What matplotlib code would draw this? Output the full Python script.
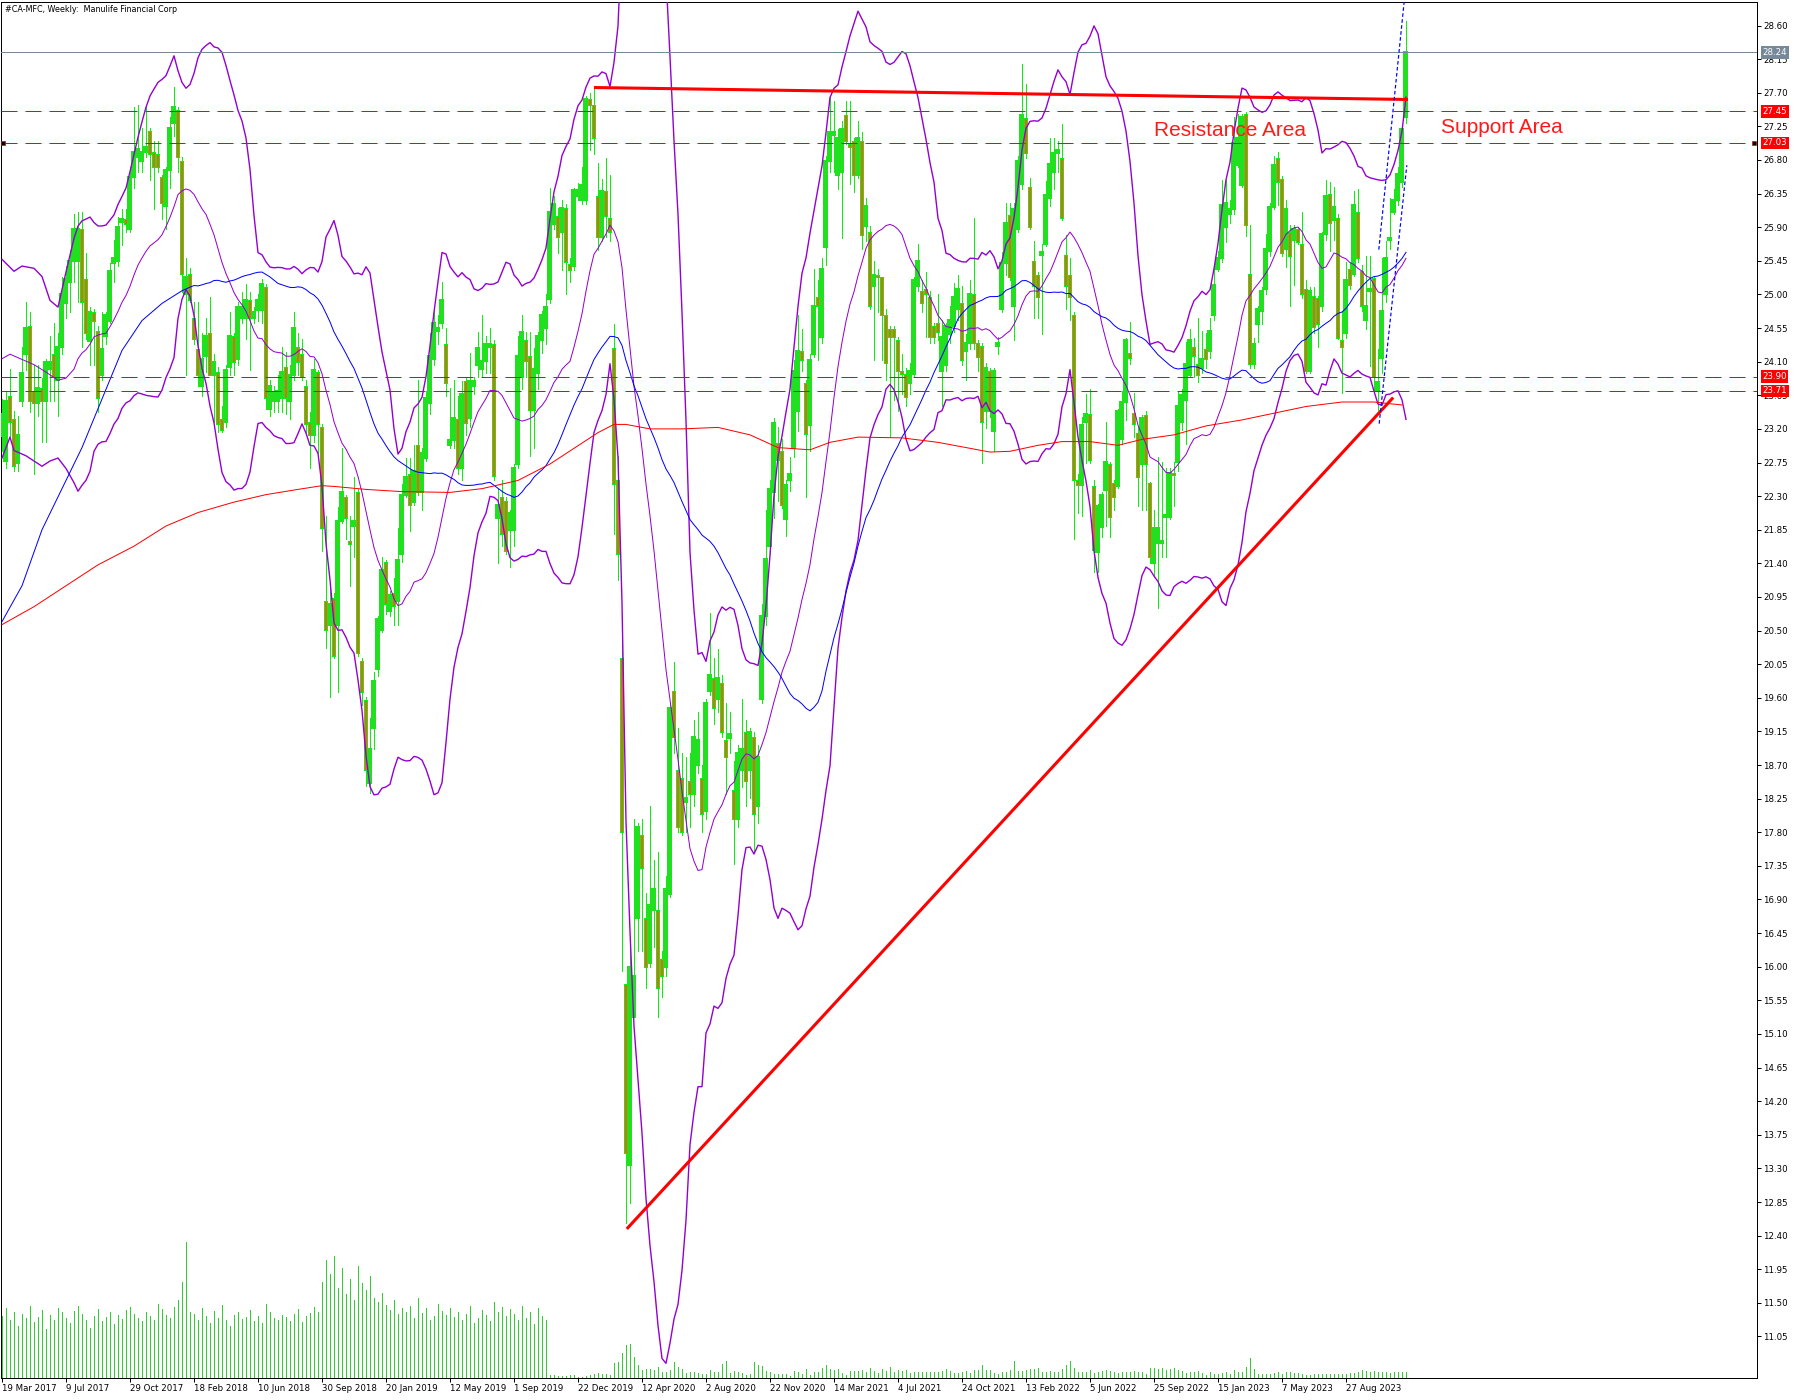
import numpy as np
import pandas as pd
import matplotlib
matplotlib.use("Agg")
import matplotlib.pyplot as plt
from matplotlib.transforms import blended_transform_factory

# weekly bars of #CA-MFC, first bar = week of 19 Mar 2017
start_date = "2017-03-19"

opens = [
    23.10, 22.77, 23.64, 23.33, 22.74, 23.57, 24.20, 24.58, 23.71, 23.54,
    23.75, 23.57, 24.00, 24.20, 23.85, 24.30, 24.89, 25.17, 25.45, 25.45,
    25.87, 25.21, 24.37, 24.76, 24.51, 23.92, 24.44, 24.65, 25.42, 25.45,
    25.97, 26.01, 25.87, 26.57, 26.84, 26.78, 26.91, 27.19, 26.91, 26.88,
    26.57, 26.18, 26.67, 27.30, 27.47, 26.78, 25.00, 25.28, 24.69, 24.27,
    23.78, 24.17, 24.48, 23.92, 23.96, 23.33, 23.29, 24.03, 24.44, 24.13,
    24.69, 24.69, 24.93, 24.69, 24.79, 24.79, 25.10, 23.47, 23.57, 23.57,
    23.61, 24.03, 23.57, 23.92, 24.30, 24.20, 23.78, 23.29, 23.12, 23.96,
    23.23, 20.90, 20.58, 20.93, 20.58, 21.97, 22.29, 21.70, 21.90, 22.36,
    20.09, 19.57, 18.46, 19.19, 19.99, 20.51, 21.42, 20.76, 21.00, 20.90,
    21.52, 22.32, 22.60, 22.22, 22.98, 22.36, 22.81, 23.54, 24.13, 24.51,
    24.62, 24.34, 22.98, 23.05, 23.33, 22.68, 23.84, 23.34, 23.78, 24.06,
    24.00, 24.11, 24.30, 24.33, 22.01, 22.29, 22.23, 21.85, 21.85, 22.73,
    23.89, 24.39, 24.17, 23.45, 23.95, 24.39, 24.55, 24.94, 25.94, 26.05,
    25.83, 26.16, 25.41, 25.38, 26.32, 26.27, 26.27, 27.62, 27.54, 26.32,
    25.77, 26.38, 26.03, 24.28, 22.51, 20.13, 15.77, 13.34, 15.33, 16.65,
    17.76, 16.65, 16.05, 16.76, 16.76, 16.10, 15.99, 16.98, 19.69, 18.64,
    18.53, 18.20, 18.48, 18.31, 18.70, 18.53, 18.09, 19.69, 19.86, 19.58,
    19.80, 19.03, 19.06, 18.37, 17.98, 18.64, 19.14, 18.64, 19.08, 18.15,
    19.58, 20.69, 21.63, 22.35, 23.01, 22.90, 21.99, 22.52, 22.94, 23.44,
    24.24, 23.82, 23.25, 24.20, 24.96, 24.43, 25.64, 26.79, 27.13, 26.60,
    26.64, 27.40, 27.02, 27.05, 26.60, 27.05, 25.91, 25.84, 25.11, 25.26,
    25.23, 24.73, 24.54, 24.54, 24.39, 23.97, 23.93, 23.82, 23.93, 25.11,
    25.04, 25.07, 24.96, 24.58, 24.62, 23.97, 24.05, 24.47, 24.58, 24.81,
    24.88, 24.24, 24.35, 25.00, 24.35, 24.31, 23.44, 23.97, 23.17, 24.31,
    24.81, 25.42, 26.06, 24.85, 25.87, 26.48, 27.36, 26.44, 25.45, 25.26,
    25.53, 25.68, 26.29, 26.64, 26.90, 26.83, 25.53, 25.26, 24.73, 22.52,
    22.45, 23.29, 23.40, 22.43, 21.55, 21.88, 22.38, 22.73, 22.47, 22.43,
    23.06, 23.56, 24.21, 23.41, 23.15, 22.73, 23.38, 22.47, 21.40, 21.67,
    21.67, 22.02, 22.02, 22.61, 22.76, 23.29, 23.59, 23.92, 24.30, 24.07,
    24.01, 24.27, 24.24, 24.72, 25.34, 25.49, 25.90, 26.08, 26.14, 26.73,
    26.47, 27.41, 25.28, 24.07, 24.60, 24.78, 25.07, 25.58, 26.17, 26.82,
    26.55, 25.61, 25.84, 25.73, 25.87, 25.67, 25.07, 23.98, 24.98, 24.95,
    24.84, 25.81, 26.35, 26.00, 26.02, 24.39, 24.48, 25.34, 25.28, 26.11,
    25.31, 24.66, 25.04, 25.22, 23.71, 24.15, 25.01, 25.73, 26.11, 26.26,
    26.50, 27.38,
]
highs = [
    23.60, 23.71, 24.00, 23.44, 23.37, 24.30, 24.90, 24.76, 24.06, 24.06,
    23.88, 24.13, 24.44, 24.62, 24.48, 25.24, 25.38, 25.59, 26.08, 26.11,
    26.11, 25.56, 24.83, 24.80, 24.58, 24.76, 24.76, 25.42, 25.73, 26.04,
    26.15, 26.15, 26.71, 27.51, 27.54, 27.23, 27.54, 27.23, 27.05, 27.05,
    26.60, 26.71, 27.37, 27.78, 27.51, 26.84, 25.49, 25.35, 24.90, 24.90,
    24.48, 24.69, 24.97, 24.20, 24.03, 23.50, 24.06, 24.76, 24.48, 24.90,
    25.03, 25.14, 25.03, 24.83, 25.00, 25.21, 25.14, 23.85, 23.78, 23.92,
    24.30, 24.23, 24.06, 24.76, 24.48, 24.41, 23.85, 23.43, 24.13, 23.99,
    23.26, 22.04, 21.07, 21.00, 22.15, 22.95, 22.32, 22.04, 22.56, 22.39,
    20.13, 19.61, 19.33, 19.95, 20.69, 21.49, 21.45, 21.03, 21.21, 21.87,
    22.46, 22.81, 22.81, 22.98, 23.85, 22.95, 23.71, 24.48, 24.83, 24.72,
    25.17, 24.55, 23.75, 23.85, 23.64, 23.84, 23.89, 24.22, 23.89, 24.50,
    24.72, 24.44, 24.55, 24.39, 22.40, 22.51, 22.29, 22.12, 22.73, 24.44,
    24.72, 24.50, 24.50, 24.28, 24.50, 24.78, 25.00, 26.43, 26.32, 26.16,
    26.27, 26.21, 25.49, 26.43, 26.49, 26.71, 27.65, 27.70, 27.76, 26.76,
    26.54, 26.82, 26.60, 24.61, 22.84, 20.47, 15.77, 16.27, 17.98, 17.92,
    17.98, 16.99, 18.15, 17.43, 17.54, 16.21, 17.21, 19.53, 20.08, 19.19,
    18.86, 18.81, 18.86, 19.30, 19.41, 18.70, 19.58, 20.74, 20.13, 20.25,
    19.91, 19.53, 19.41, 18.75, 18.97, 19.58, 19.30, 19.19, 19.14, 18.97,
    20.85, 22.12, 22.51, 23.34, 23.23, 23.06, 22.52, 22.83, 24.12, 24.73,
    24.54, 23.86, 24.20, 25.34, 25.19, 25.49, 26.86, 27.66, 27.59, 27.21,
    27.32, 27.59, 27.59, 27.09, 27.32, 27.17, 26.29, 25.91, 25.45, 25.34,
    25.23, 24.81, 24.58, 24.58, 24.43, 24.20, 24.01, 24.08, 25.23, 25.68,
    25.19, 25.30, 25.04, 24.62, 25.00, 24.66, 24.62, 24.85, 25.15, 25.26,
    25.11, 24.47, 25.19, 26.03, 24.39, 24.35, 24.08, 24.01, 24.01, 24.43,
    25.57, 26.22, 26.22, 26.22, 26.86, 28.08, 27.82, 26.56, 25.72, 25.30,
    25.68, 26.52, 27.09, 27.09, 27.05, 27.28, 25.80, 25.49, 24.77, 22.60,
    23.36, 23.67, 23.74, 22.52, 22.20, 22.35, 23.29, 22.76, 22.52, 23.47,
    23.71, 24.42, 24.63, 23.68, 23.24, 23.38, 23.44, 22.49, 22.11, 22.82,
    22.76, 22.67, 22.67, 22.76, 23.71, 23.74, 24.36, 24.54, 24.42, 24.69,
    24.51, 24.48, 24.69, 25.37, 25.58, 26.53, 26.53, 26.26, 27.38, 27.41,
    27.41, 27.44, 25.93, 24.42, 24.84, 25.10, 25.81, 26.23, 26.85, 26.91,
    26.58, 26.26, 25.93, 25.93, 25.90, 26.11, 25.19, 25.10, 25.10, 24.98,
    25.84, 26.53, 26.50, 26.44, 26.08, 24.78, 25.43, 25.43, 26.38, 26.41,
    25.40, 25.52, 25.52, 25.25, 24.27, 25.49, 25.72, 26.29, 26.41, 26.70,
    27.24, 28.66,
]
lows = [
    22.90, 22.67, 23.09, 22.63, 22.63, 23.50, 23.99, 23.43, 22.60, 23.37,
    23.02, 23.02, 23.57, 23.57, 23.37, 24.20, 24.69, 24.76, 25.17, 24.90,
    24.30, 24.41, 24.06, 24.06, 23.43, 23.85, 24.34, 24.62, 25.17, 25.38,
    25.66, 25.84, 25.84, 26.43, 26.64, 26.64, 26.84, 26.53, 26.15, 26.64,
    26.01, 25.87, 26.43, 27.12, 26.64, 25.03, 23.92, 24.90, 24.34, 23.78,
    23.64, 23.96, 23.92, 23.29, 23.16, 23.16, 23.22, 23.92, 23.92, 24.06,
    24.62, 24.41, 23.99, 24.62, 24.65, 24.62, 23.47, 23.37, 23.43, 23.43,
    23.43, 23.40, 23.33, 23.85, 23.92, 23.85, 23.16, 22.67, 23.02, 22.88,
    21.56, 20.27, 19.61, 20.13, 19.68, 21.94, 21.73, 21.10, 21.49, 20.16,
    19.50, 18.42, 18.32, 18.91, 19.89, 20.48, 20.72, 20.69, 20.58, 20.58,
    21.42, 22.29, 21.83, 22.18, 22.32, 22.11, 22.77, 23.40, 24.06, 24.34,
    24.55, 23.64, 22.95, 22.95, 22.60, 22.51, 23.12, 23.23, 23.67, 23.89,
    23.89, 23.95, 23.95, 22.51, 21.41, 21.63, 21.52, 21.35, 21.63, 22.68,
    23.73, 23.89, 22.84, 22.95, 23.73, 24.22, 24.33, 24.89, 25.88, 25.55,
    25.33, 25.00, 25.16, 25.33, 26.27, 26.21, 26.21, 26.93, 26.88, 25.60,
    25.71, 25.77, 25.71, 21.79, 21.18, 15.94, 12.57, 12.84, 15.33, 16.21,
    16.21, 15.72, 15.99, 16.27, 15.33, 15.60, 15.88, 16.93, 18.86, 17.81,
    17.76, 17.81, 17.87, 18.15, 18.59, 17.81, 17.98, 19.64, 19.25, 19.41,
    19.08, 18.31, 18.86, 17.37, 17.87, 18.40, 18.15, 18.26, 17.54, 17.92,
    19.53, 20.58, 21.52, 22.01, 22.23, 22.14, 21.76, 22.37, 22.83, 23.17,
    23.97, 22.29, 22.90, 24.16, 24.12, 24.35, 25.40, 26.64, 26.64, 26.41,
    25.76, 27.02, 26.48, 26.37, 26.56, 25.61, 25.72, 24.81, 24.12, 24.77,
    24.12, 23.86, 23.09, 23.59, 23.44, 23.67, 23.51, 23.67, 23.90, 25.04,
    24.77, 24.43, 24.35, 24.35, 24.39, 23.51, 23.97, 24.35, 24.50, 24.66,
    24.05, 23.86, 24.27, 24.27, 23.97, 22.75, 23.21, 23.36, 22.90, 24.20,
    24.77, 25.26, 25.19, 24.39, 25.84, 26.41, 26.83, 25.87, 24.69, 24.69,
    24.47, 25.65, 26.18, 26.41, 26.64, 25.99, 24.81, 24.66, 21.72, 22.07,
    22.03, 22.75, 22.75, 21.28, 21.28, 21.75, 21.90, 21.75, 22.11, 22.41,
    23.00, 23.32, 24.07, 23.09, 22.17, 22.11, 22.11, 21.40, 21.22, 20.80,
    21.49, 21.49, 21.99, 22.17, 22.64, 23.18, 23.00, 23.89, 23.89, 23.83,
    23.95, 24.01, 24.15, 24.66, 25.31, 25.43, 25.70, 25.96, 26.08, 26.70,
    26.44, 25.78, 24.01, 24.01, 24.36, 24.60, 25.01, 25.52, 26.14, 26.20,
    25.52, 25.37, 24.84, 25.13, 25.67, 24.95, 23.95, 23.95, 24.48, 24.30,
    24.78, 25.73, 25.58, 25.73, 24.40, 23.68, 24.42, 25.07, 25.25, 25.43,
    24.78, 24.54, 24.04, 23.71, 23.45, 23.95, 24.90, 25.61, 26.08, 26.20,
    26.44, 27.29,
]
closes = [
    23.40, 23.57, 23.29, 22.70, 23.12, 23.95, 24.55, 23.57, 23.54, 23.75,
    23.57, 24.10, 24.10, 23.89, 24.30, 25.00, 25.21, 25.45, 25.87, 25.87,
    24.90, 24.48, 24.76, 24.65, 23.61, 24.27, 24.72, 25.31, 25.49, 25.90,
    26.01, 25.94, 26.57, 26.91, 26.95, 26.91, 26.98, 26.88, 26.71, 26.71,
    26.22, 26.67, 27.23, 27.51, 26.84, 25.28, 25.23, 24.93, 24.41, 23.92,
    24.13, 24.44, 23.92, 24.10, 23.26, 23.19, 23.99, 24.44, 24.10, 24.83,
    24.83, 24.93, 24.69, 24.76, 24.93, 25.14, 23.61, 23.78, 23.68, 23.71,
    23.96, 23.61, 23.92, 24.55, 24.10, 23.89, 23.26, 23.12, 23.99, 23.26,
    21.87, 20.51, 20.86, 20.16, 21.97, 22.36, 22.01, 21.66, 21.97, 20.20,
    19.68, 18.63, 18.91, 19.82, 20.65, 21.31, 20.86, 20.97, 20.83, 21.45,
    22.32, 22.56, 22.18, 22.63, 22.36, 22.88, 23.61, 24.17, 24.62, 24.55,
    24.93, 23.82, 23.05, 23.34, 22.67, 23.67, 23.28, 23.84, 23.84, 24.28,
    24.11, 24.33, 24.33, 22.57, 22.18, 21.79, 21.57, 22.07, 22.68, 24.17,
    24.50, 24.11, 23.45, 24.00, 24.44, 24.72, 24.83, 26.10, 26.21, 25.77,
    26.16, 25.44, 25.33, 26.40, 26.40, 26.47, 27.62, 27.54, 27.10, 25.77,
    26.38, 26.05, 25.83, 22.46, 21.52, 17.81, 13.50, 15.99, 15.88, 17.87,
    17.32, 15.99, 16.82, 17.04, 15.72, 15.88, 17.04, 19.47, 19.08, 17.87,
    17.81, 18.26, 18.31, 19.08, 19.03, 18.04, 19.53, 19.91, 19.47, 19.86,
    19.14, 18.81, 19.11, 17.98, 18.86, 18.92, 18.48, 19.14, 18.04, 18.81,
    20.69, 21.46, 22.40, 23.28, 22.79, 22.18, 22.45, 22.60, 23.97, 24.24,
    24.12, 23.13, 24.12, 24.85, 24.85, 25.34, 26.79, 27.17, 27.17, 27.09,
    27.21, 27.05, 26.98, 26.60, 27.09, 25.80, 26.18, 24.85, 25.26, 25.23,
    24.73, 24.08, 24.43, 24.43, 23.97, 23.93, 23.63, 23.97, 25.19, 25.45,
    24.88, 25.00, 24.43, 24.43, 24.50, 24.43, 24.58, 24.66, 24.96, 25.07,
    24.12, 24.35, 25.00, 24.35, 24.16, 23.29, 24.01, 23.44, 23.97, 24.35,
    25.42, 25.95, 25.23, 26.14, 26.79, 27.40, 26.90, 25.90, 25.11, 24.96,
    25.57, 26.33, 26.75, 26.90, 26.94, 26.03, 25.11, 24.96, 22.52, 22.45,
    23.25, 23.40, 22.79, 21.58, 22.17, 22.32, 22.76, 22.02, 22.29, 23.44,
    23.56, 24.39, 24.15, 23.26, 22.55, 23.35, 22.73, 21.49, 21.87, 21.87,
    21.70, 22.05, 22.61, 22.58, 23.50, 23.65, 24.07, 24.39, 24.18, 23.92,
    24.13, 24.13, 24.51, 25.13, 25.49, 26.20, 26.23, 26.14, 27.03, 27.09,
    27.38, 25.93, 24.07, 24.33, 24.81, 25.04, 25.61, 26.17, 26.73, 26.50,
    25.55, 26.14, 25.52, 25.87, 25.70, 25.01, 23.98, 25.04, 24.57, 24.60,
    25.81, 26.32, 25.96, 26.17, 24.42, 24.30, 25.19, 25.13, 26.20, 25.49,
    24.84, 24.84, 25.07, 23.89, 23.83, 24.78, 25.49, 25.76, 26.26, 26.61,
    27.21, 28.24,
]
# tick volume (no scale on the chart, kept in relative units)
volumes = [
    62, 70, 58, 66, 52, 64, 60, 72, 56, 61, 68, 49, 63, 58, 70, 66,
    60, 55, 67, 72, 64, 58, 50, 62, 69, 57, 61, 66, 54, 63, 59, 68,
    71, 64, 60, 57, 66, 62, 58, 74, 69, 63, 60, 71, 78, 96, 136, 66,
    64, 58, 70, 62, 55, 67, 60, 73, 58, 52, 63, 66, 59, 61, 68, 57,
    62, 55, 74, 66, 60, 58, 63, 61, 57, 64, 69, 56, 62, 65, 71, 66,
    96, 118, 104, 122, 90, 110, 84, 99, 78, 112, 95, 88, 102, 80, 76, 85,
    73, 68, 78, 64, 70, 66, 72, 60, 80, 65, 70, 58, 62, 74, 67, 63,
    70, 61, 66, 58, 64, 72, 55, 60, 68, 63, 57, 76, 66, 71, 62, 69,
    64, 58, 72, 60, 66, 54, 70, 62, 58,
    3, 3, 2,
    2, 2, 3, 3, 1, 1, 2, 3, 4, 5, 4, 4, 3, 15, 16, 25, 33, 34, 21, 13,
    8, 9, 9, 8, 11, 6, 6, 8, 16, 11, 9, 5, 6, 6, 5, 4, 4, 8, 6, 6,
    14, 17, 5, 7, 6, 5, 3, 4, 16, 13, 12, 7, 6, 4, 4, 4, 4, 2, 7, 6,
    4, 9, 3, 6, 6, 10, 13, 9, 8, 9, 5, 3, 7, 7, 7,
    8, 6, 10, 7, 5, 9, 7, 11, 6, 8,
    7, 8, 5, 6, 6, 6, 6, 6, 6, 6, 7, 9, 7, 5, 5, 6, 7, 5, 8, 8,
    13, 8, 8, 5, 4, 6, 6, 8, 17, 7, 7, 8, 9, 9, 10, 6, 6, 7, 6, 6,
    9, 13, 17, 10, 6, 6, 6, 8, 5, 6, 7, 8, 7, 6, 5, 6, 6, 6, 7, 6,
    6, 4, 10, 10, 9, 10, 8, 9, 10, 8, 7, 5, 6, 6, 7, 5, 3, 6, 4, 4,
    5, 6, 4, 8, 6, 6, 11, 20, 9, 4, 4, 4, 4, 5, 6, 4, 6, 6, 5, 5,
    4, 3, 3, 4, 4, 4, 4, 4, 4, 4, 4, 4, 5, 5, 6, 8, 7, 6, 7, 6,
    6, 6, 5, 6, 6, 6, 6,
]

bb_up_head_x = [0, 3, 5, 8, 10, 12, 14, 16, 18]
bb_up_head = [25.47, 25.31, 25.38, 25.35, 25.24, 24.92, 24.83, 25.30, 25.75]
bb_mid_head_x = [0, 2, 5, 8, 11, 14, 16, 18]
bb_mid_head = [24.14, 24.20, 24.13, 24.06, 23.96, 23.85, 23.88, 24.00]
bb_low_head_x = [0, 2, 3, 6, 8, 10, 12, 14, 16, 18]
bb_low_head = [22.81, 23.09, 22.91, 22.84, 22.77, 22.70, 22.77, 22.81, 22.67, 22.48]
ma50_head_x = [0, 5, 10, 15, 20, 25, 30, 35, 40, 45, 48]
ma50_head = [20.62, 21.10, 21.85, 22.40, 22.95, 23.60, 24.25, 24.65, 24.88, 25.05, 25.12]
ma200_x = [0, 8, 16, 24, 33, 41, 49, 58, 66, 74, 80, 83, 91, 100, 112, 120,
           129, 137, 145, 149, 153, 156, 162, 170, 179, 187, 194, 202, 207,
           214, 225, 234, 242, 247, 252, 259, 265, 272, 279, 285, 293, 301,
           310, 318, 326, 335, 343, 350]
ma200 = [20.58, 20.82, 21.10, 21.38, 21.63, 21.90, 22.08, 22.22, 22.32, 22.39,
         22.44, 22.43, 22.39, 22.36, 22.35, 22.40, 22.51, 22.73, 23.01, 23.15,
         23.26, 23.26, 23.20, 23.20, 23.22, 23.12, 22.95, 22.92, 23.02, 23.09,
         23.08, 23.02, 22.94, 22.89, 22.90, 22.98, 23.03, 23.03, 22.98, 23.06,
         23.12, 23.24, 23.32, 23.41, 23.50, 23.56, 23.56, 23.52]

# drawn objects
levels = [27.45, 27.03, 23.90, 23.71]
last_price = 28.24
resist_x = [148, 351.5]
resist_y = [27.77, 27.61]
trend_x = [156.2, 347.8]
trend_y = [12.49, 23.62]
chan_a_x = [344.2, 350.6]
chan_a_y = [25.60, 28.95]
chan_b_x = [344.3, 351.2]
chan_b_y = [23.27, 26.73]

PX = 0.72  # one pixel in points at dpi 100
GREEN = "#10ee10"
BODY_GREEN = "#20e020"
BEAR = "#ff5a1e"
PURPLE = "#9400d3"

fig = plt.figure(figsize=(18, 14), dpi=100)
rect = [1 / 1800, 22 / 1400, 1756 / 1800, 1376 / 1400]
xlim = (-0.25, 438.75)
ylim = (10.494, 28.915)

# volume behind the price
axv = fig.add_axes(rect, zorder=0)
x = np.arange(len(closes))
axv.vlines(x, 0, volumes, color="#32cd32", lw=PX, antialiased=False)
axv.set_xlim(*xlim)
axv.set_ylim(0, 1376)
axv.axis("off")

ax = fig.add_axes(rect, zorder=1)
ax.patch.set_visible(False)
ax.set_xlim(*xlim)
ax.set_ylim(*ylim)

o = np.array(opens)
h = np.array(highs)
l = np.array(lows)
c = np.array(closes)
up = c >= o
body_h = np.maximum(np.abs(c - o), 0.02)
body_b = np.minimum(o, c)

# candles, drawn crisp like the terminal does
ax.vlines(x, l, h, color=GREEN, lw=PX, zorder=2, antialiased=False)
ax.bar(x[up], body_h[up], bottom=body_b[up], width=0.75, color=BODY_GREEN,
       edgecolor=BODY_GREEN, lw=0.3, zorder=3, antialiased=False)
ax.bar(x[~up], body_h[~up], bottom=body_b[~up], width=0.75, color=BEAR,
       edgecolor=GREEN, lw=0.5, zorder=3, antialiased=False)

# bollinger(20, 2) and moving averages
s = pd.Series(closes)
mid = s.rolling(20).mean()
sd = s.rolling(20).std(ddof=0)
upper = mid + 2 * sd
lower = mid - 2 * sd
ma50 = s.rolling(50).mean()

rest = list(x[19:])
ax.plot(bb_up_head_x + rest, bb_up_head + list(upper[19:]), color=PURPLE, lw=1.0, zorder=4)
ax.plot(bb_low_head_x + rest, bb_low_head + list(lower[19:]), color=PURPLE, lw=1.0, zorder=4)
ax.plot(bb_mid_head_x + rest, bb_mid_head + list(mid[19:]), color=PURPLE, lw=PX, zorder=4)
ax.plot(ma50_head_x + list(x[49:]), ma50_head + list(ma50[49:]), color="#0000ff", lw=PX, zorder=4)
ax.plot(ma200_x, ma200, color="#ff0000", lw=PX, zorder=4)

# levels and lines
ax.axhline(last_price, color="#778899", lw=PX, zorder=5)
for lv in levels:
    ax.axhline(lv, color="#ff0000", lw=PX, ls=(0, (16, 8)), zorder=5)
ax.plot([0.3, 438.0], [27.03, 27.03], ls="none", marker="s", ms=2.6, mfc="black",
        mec="#ff0000", mew=0.5, zorder=6, clip_on=False)

ax.plot(resist_x, resist_y, color="#ff0000", lw=2.2, zorder=6, solid_capstyle="butt")
ax.plot(trend_x, trend_y, color="#ff0000", lw=2.2, zorder=6, solid_capstyle="butt")
ax.plot(chan_a_x, chan_a_y, color="#0000ff", lw=PX * 1.2, ls=(0, (3, 2)), zorder=6)
ax.plot(chan_b_x, chan_b_y, color="#0000ff", lw=PX * 1.2, ls=(0, (3, 2)), zorder=6)

ax.text(307, 27.20, "Resistance Area", color="#ff1a1a", fontsize=15,
        family="Liberation Sans", ha="center", va="center", zorder=7)
ax.text(375, 27.24, "Support Area", color="#ff1a1a", fontsize=15,
        family="Liberation Sans", ha="center", va="center", zorder=7)

# axes, ticks
for sp in ax.spines.values():
    sp.set_linewidth(PX)
    sp.set_color("black")

yt = np.round(np.arange(11.05, 28.61, 0.45), 2)
ax.yaxis.tick_right()
ax.set_yticks(yt)
ax.set_yticklabels([f"{v:.2f}" for v in yt])
ax.tick_params(axis="y", direction="out", length=3, width=PX, labelsize=6.2, pad=1.5)

dates = pd.date_range(start_date, periods=len(closes), freq="7D")
xt = list(range(0, len(closes), 16))
ax.set_xticks(xt)
ax.set_xticklabels([f"{dates[i].day} {dates[i].strftime('%b %Y')}" for i in xt], ha="left")
ax.tick_params(axis="x", direction="out", length=3, width=PX, labelsize=6.2, pad=1.5)

# price tags on the right scale
trans = blended_transform_factory(ax.transAxes, ax.transData)
for lv in levels:
    ax.text(1.003, lv, f"{lv:.2f}", transform=trans, color="white", fontsize=6.2,
            va="center", ha="left", zorder=10, clip_on=False,
            bbox=dict(boxstyle="square,pad=0.2", fc="#ff0000", ec="none"))
ax.text(1.003, last_price, f"{last_price:.2f}", transform=trans, color="white", fontsize=6.2,
        va="center", ha="left", zorder=10, clip_on=False,
        bbox=dict(boxstyle="square,pad=0.2", fc="#778899", ec="none"))

fig.text(5 / 1800, 1 - 9 / 1400, "#CA-MFC, Weekly:  Manulife Financial Corp",
         fontsize=5.8, ha="left", va="center")

fig.savefig("out.png", dpi=100, facecolor="white")
